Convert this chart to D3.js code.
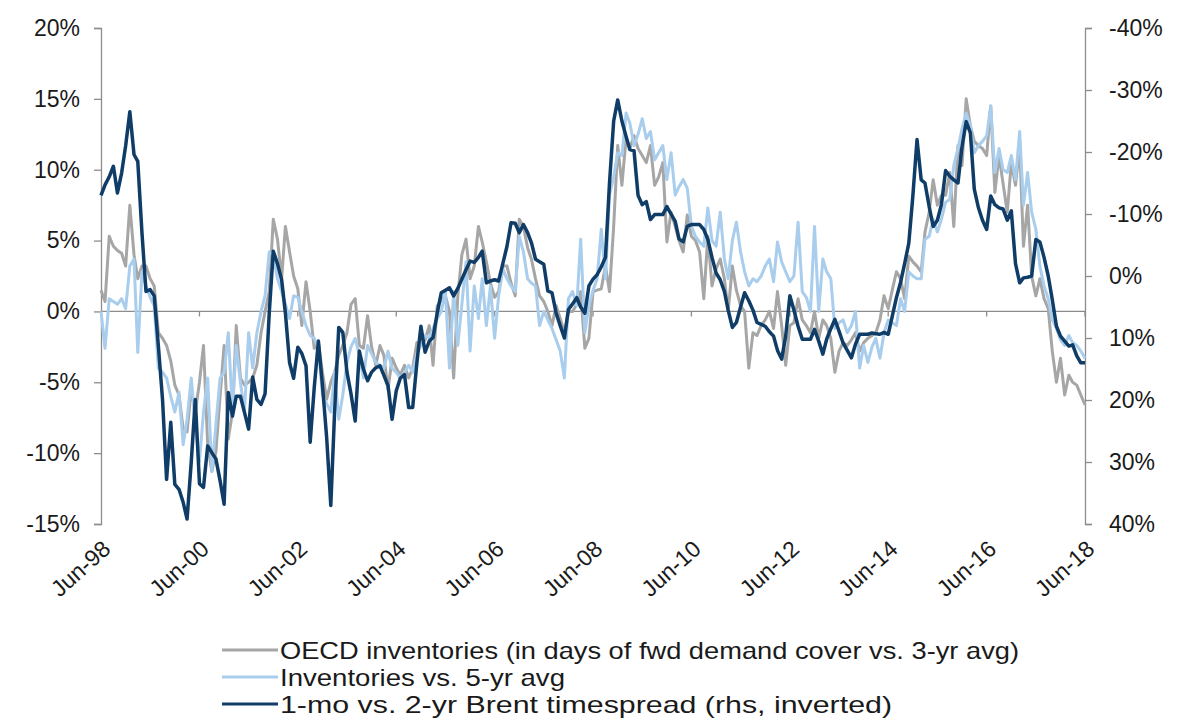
<!DOCTYPE html>
<html>
<head>
<meta charset="utf-8">
<script src="https://cdn.jsdelivr.net/npm/d3@7"></script>
<style>
  html, body { margin: 0; padding: 0; background: #fff; }
  svg { display: block; }
  text { font-family: "Liberation Sans", Arial, sans-serif; fill: #1a1a1a; }
</style>
</head>
<body>
<svg id="chart" width="1181" height="724"></svg>
<script>
// ---- Data (monthly, Jun-1998 .. Jun-2018) ----
const startYear = 1998, startMonth = 5; // June (0-based)
const xTickLabels = ["Jun-98","Jun-00","Jun-02","Jun-04","Jun-06","Jun-08","Jun-10","Jun-12","Jun-14","Jun-16","Jun-18"];
const leftTicks = [20, 15, 10, 5, 0, -5, -10, -15];
const rightTicks = [-40, -30, -20, -10, 0, 10, 20, 30, 40];
const legendLabels = [
  "OECD inventories (in days of fwd demand cover vs. 3-yr avg)",
  "Inventories vs. 5-yr avg",
  "1-mo vs. 2-yr Brent timespread (rhs, inverted)"
];

// OECD inventories vs 3-yr avg (%; left axis)
const oecd3yr = [
  1.5, 0.7, 5.3, 4.6, 4.3, 4.1, 3.2, 7.5, 4, 2.3, 3.2, 3.2,
  2.3, 1.8, -1.5, -1.9, -2.4, -3.5, -5.2, -5.9, -8.3, -8.5, -5.5, -7.1,
  -5, -2.4, -9.4, -11.3, -9.9, -6, -2.4, -9, -7.1, -1, -4.7, -5.2,
  -5, -4.7, -3.8, -1.5, 0, 1.4, 6.5, 5.1, 2.3, 6, 4.2, 2.5,
  1.6, -1, 2.1, 0, -2.6, -2.2, -4.3, -6.2, -5, -4.3, -3.1, -2.4,
  -1.5, 0.5, 0.9, -2.4, -2.6, -0.3, -2.5, -3.8, -2.4, -3.1, -5.5, -3.3,
  -4, -4.5, -3.8, -4.7, -4, -2.2, -2.4, -2, -1, -3.8, 0.4, 0.8,
  1.1, 0, -4.7, 1.1, 4, 5.1, 2.3, 3.2, 6, 4.9, 3.5, 2,
  1, 1.4, 3.2, 3.2, 2, 1.1, 6.5, 6, 4.5, 3.7, 2.3, 1.1,
  0.7, 0, -1, 0.4, -0.5, -1.5, 0, 0, 0.5, 1.4, -2.6, -1.9,
  1.4, 1.5, 1.6, 3.2, 1.4, 6, 11.7, 8.9, 12.2, 11.5, 12.4, 11.5,
  11, 10.5, 11.7, 8.9, 9.5, 10.5, 4.9, 7, 6, 5, 4.2, 6.8,
  5.3, 5, 4.2, 0.9, 5.3, 1.8, 3, 3.7, 2.3, 0, 3.2, 1.5,
  0.4, 0, -4, -1.5, -1.7, -1, -0.6, 0, -1.2, 1.4, -1, -3.8,
  -1, -0.8, 0.9, -0.6, -1, -1.5, 0, -1.9, -0.6, -1, -1.9, -4.3,
  -2.8, -2.2, -2.4, -2, -1.5, -2.8, -2.2, -1.9, -1.7, -1.5, -0.6, 1.1,
  0.2, 1.5, 2.8, 2.3, 0.9, 3.9, 3.5, 3.2, 2.8, 5.6, 7, 9.3,
  7.5, 8.2, 8.2, 9.8, 6, 11.7, 10.3, 15, 13.1, 12, 11.7, 11.5,
  11, 14.5, 8.4, 11, 9, 7, 10.5, 8.9, 11.7, 4.6, 7.5, 2.5,
  1.1, 2.3, 0.9, 0.2, -2.8, -5, -3.3, -5.9, -4.5, -5, -5.2, -5.9,
  -6.6
];

// Inventories vs 5-yr avg (%; left axis)
const inv5yr = [
  0, -2.6, 0.9, 0.7, 0.5, 0.9, 0.2, 3.2, 3.7, -2.9, 2.8, 1.8,
  1, 0.4, -4, -4.3, -4.7, -6, -7.1, -5.7, -9.4, -7.6, -4.7, -8,
  -10.6, -7.1, -4.7, -11.3, -8, -4.7, -4.3, -1.5, -7.1, -2.4, -5, -7.1,
  -1.5, -4, -1.5, 0, 1.1, 4.2, 4, 2.3, 1.4, 0.5, -0.5, 1.1,
  1, 0, -1, -1.7, -1.9, -2.6, -5.9, -6.5, -7.1, -4.3, -7.6, -5.9,
  -3.6, -2.5, -1.9, -3.1, -4.7, -2.4, -3, -3.6, -3.8, -4, -2.8, -4,
  -4.3, -4.7, -4.3, -3.8, -4.3, -3, -2.4, -1.7, -1.9, -1.2, -0.5, 0,
  1.4, -4, 1.4, -2.4, 0.5, 3.5, -2.8, 1.8, -0.5, 2.3, -1, 1.8,
  -1.9, 1.1, 3, 2.3, 1.8, 1.4, 5.3, 4.2, 2.3, 2, 1.8, -1,
  0, -0.6, -1.2, -2, -2.8, -4.7, 0.9, 1.4, 0.4, 5.1, -1.5, 0.4,
  1.5, 2.3, 5.8, 2.3, 8.2, 9.5, 11.2, 11, 14, 13.3, 11.7, 12.5,
  13.6, 12.2, 12.7, 10.7, 11.2, 11.7, 9.3, 11.2, 8.2, 8.8, 9.3, 8.7,
  6, 5.3, 4.9, 4.6, 7.3, 5, 4.6, 7, 3.7, 2.3, 5, 6.3,
  4.2, 2.8, 1.8, 2.3, 2.1, 2.5, 3.2, 3.7, 2.1, 4.9, 3.5, 2.8,
  2.1, 2.5, 6.3, 1.4, 1, 0, 6, 0, 3.7, 2.8, 2.3, -1.2,
  -0.8, -0.6, -1.5, -1, 0, -4, -2.4, -3.6, -2.5, -1.9, -3.3, -1.5,
  -0.6, -0.8, -1, 0.9, 0, 2.8, 2.5, 2.3, 2.3, 5.1, 5.3, 6.5,
  5.6, 6.5, 7.7, 7.9, 10.3, 11.5, 12.9, 14, 13.1, 11.2, 11.7, 12,
  12.4, 14.5, 9.8, 11.5, 10, 9.8, 11, 9.3, 12.7, 7.5, 9.8, 7,
  5.8, 3.2, 1.8, 0.9, -0.6, -1.2, -2, -2.4, -1.7, -2.2, -2.4, -2.8,
  -3.3
];

// 1-mo vs 2-yr Brent timespread (%; right axis, inverted)
const brentSpread = [
  -13, -14.7, -16, -17.7, -13.4, -16.6, -21, -26.5, -19.6, -18.5, -7, 2.5,
  2.2, 3.2, 11.3, 20, 32.8, 23.6, 33.6, 34.4, 36.5, 39.2, 30, 19.9,
  33.5, 34.1, 27.4, 28.5, 29.5, 33, 36.8, 18.8, 22.6, 19.4, 19.4, 22,
  24.7, 16.3, 19.9, 20.7, 19, 6, -4, -2, 0.6, 6, 14, 16.5,
  11.5, 12.5, 14.5, 26.8, 18, 10.5, 17.6, 26, 37, 22, 8.3, 9.1,
  15.5, 19, 23.4, 12.1, 15, 16.9, 15.5, 14.8, 14.5, 16, 17.7, 23.1,
  18.5, 16.5, 15.9, 21.2, 21.2, 14, 8.1, 12.3, 10.5, 9.9, 6, 2.7,
  2.3, 1.9, 3.2, 2, 0.5, -1, -2.4, -2.2, -3, -4, 1.1, 0.8,
  0.6, 0.8, -2, -4.8, -8.6, -8.5, -7, -8.3, -7, -5.4, -2.7, -2.3,
  -1.9, 2.4, 2.7, 6, 8, 10, 5.4, 4.5, 3.5, 5, 6, 1.6,
  0.5, -0.2, -1.5, -3, -15, -25, -28.4, -25, -22.5, -20.4, -20.2, -13,
  -11.5, -12, -9.1, -9.9, -9.9, -9.9, -11.2, -10, -8.8, -6, -5.5, -8,
  -8.3, -8.3, -8.3, -7.5, -5.9, -3, -0.5, 0.6, 2.5, 5.5, 8.3, 7.5,
  5, 2.7, 4, 5.5, 7.5, 7.8, 8.1, 9, 9.7, 12, 13.4, 9.7,
  3.2, 5.5, 8.1, 10.2, 10.2, 10.2, 8.6, 10.5, 12.6, 10.2, 8.5, 7,
  8.9, 10.8, 12, 13.2, 11, 9.4, 9.4, 9.4, 9.2, 9.3, 9.4, 9.1,
  9.4, 6.5, 3.5, 1, -2, -5.3, -12.9, -22, -15.5, -15, -11.2, -8,
  -9, -11.5, -17, -16.1, -15.5, -15, -20.9, -24.9, -23.1, -14, -11, -9,
  -7.5, -12.9, -11.5, -11, -10.8, -9, -10.5, -2, 1.1, 0.3, 0.2, 0,
  -5.9, -5.5, -3, 0, 3.8, 8.1, 9.7, 10.5, 11.3, 11.1, 12.9, 14,
  14
];

// ---- Chart ----
const svg = d3.select("#chart");
const plotLeft = 101, plotRight = 1085, plotTop = 28, plotBottom = 524;
const dates = oecd3yr.map((_, i) => new Date(startYear, startMonth + i, 1));

const x = d3.scaleTime()
  .domain([dates[0], dates[dates.length - 1]])
  .range([plotLeft, plotRight]);
const yL = d3.scaleLinear().domain([-15, 20]).range([plotBottom, plotTop]);
const yR = d3.scaleLinear().domain([40, -40]).range([plotBottom, plotTop]);

const axisColor = "#8c8c8c";

// Left axis
const leftAxis = svg.append("g").attr("transform", `translate(${plotLeft},0)`)
  .call(d3.axisLeft(yL).tickValues(leftTicks).tickSize(7).tickPadding(14)
    .tickFormat(d => d + "%"));
// Right axis
const rightAxis = svg.append("g").attr("transform", `translate(${plotRight},0)`)
  .call(d3.axisRight(yR).tickValues(rightTicks).tickSize(7).tickPadding(17)
    .tickFormat(d => d + "%"));
[leftAxis, rightAxis].forEach(g => {
  g.select(".domain").attr("stroke", axisColor).attr("stroke-width", 1.3);
  g.selectAll(".tick line").attr("stroke", axisColor).attr("stroke-width", 1.3);
  g.selectAll(".tick text").attr("font-size", 23).attr("fill", "#1a1a1a")
    .attr("font-family", "Liberation Sans, Arial, sans-serif");
});

// Zero (category) axis line
svg.append("line")
  .attr("x1", plotLeft).attr("x2", plotRight)
  .attr("y1", yL(0)).attr("y2", yL(0))
  .attr("stroke", axisColor).attr("stroke-width", 1.3);

// Category ticks on zero line and rotated labels at bottom
const tickDates = xTickLabels.map((_, i) => new Date(startYear + 2 * i, startMonth, 1));
svg.append("g").selectAll("line").data(tickDates).join("line")
  .attr("x1", d => x(d)).attr("x2", d => x(d))
  .attr("y1", yL(0)).attr("y2", yL(0) + 5)
  .attr("stroke", axisColor).attr("stroke-width", 1.3);

svg.append("g").selectAll("text").data(tickDates).join("text")
  .attr("transform", d => `translate(${x(d) + 11},${plotBottom + 27}) rotate(-42)`)
  .attr("text-anchor", "end")
  .attr("font-size", 23)
  .text((d, i) => xTickLabels[i]);

// Lines
const lineL = d3.line().x((d, i) => x(dates[i])).y(d => yL(d)).curve(d3.curveLinear);
const lineR = d3.line().x((d, i) => x(dates[i])).y(d => yR(d)).curve(d3.curveLinear);

const colors = ["#a6a6a6", "#a9cdec", "#0f3d68"];

svg.append("path").datum(oecd3yr).attr("d", lineL)
  .attr("fill", "none").attr("stroke", colors[0]).attr("stroke-width", 3)
  .attr("stroke-linejoin", "round");
svg.append("path").datum(inv5yr).attr("d", lineL)
  .attr("fill", "none").attr("stroke", colors[1]).attr("stroke-width", 3)
  .attr("stroke-linejoin", "round");
svg.append("path").datum(brentSpread).attr("d", lineR)
  .attr("fill", "none").attr("stroke", colors[2]).attr("stroke-width", 3.5)
  .attr("stroke-linejoin", "round");

// Legend
const legendY = [650, 677, 704];
const legendWidths = [739, 285, 612];
const legend = svg.append("g");
legendLabels.forEach((lab, i) => {
  legend.append("line")
    .attr("x1", 222).attr("x2", 278)
    .attr("y1", legendY[i]).attr("y2", legendY[i])
    .attr("stroke", colors[i]).attr("stroke-width", 3);
  legend.append("text")
    .attr("x", 280).attr("y", legendY[i])
    .attr("dy", "0.36em")
    .attr("font-size", 24)
    .attr("textLength", legendWidths[i])
    .attr("lengthAdjust", "spacingAndGlyphs")
    .text(lab);
});
</script>
</body>
</html>
